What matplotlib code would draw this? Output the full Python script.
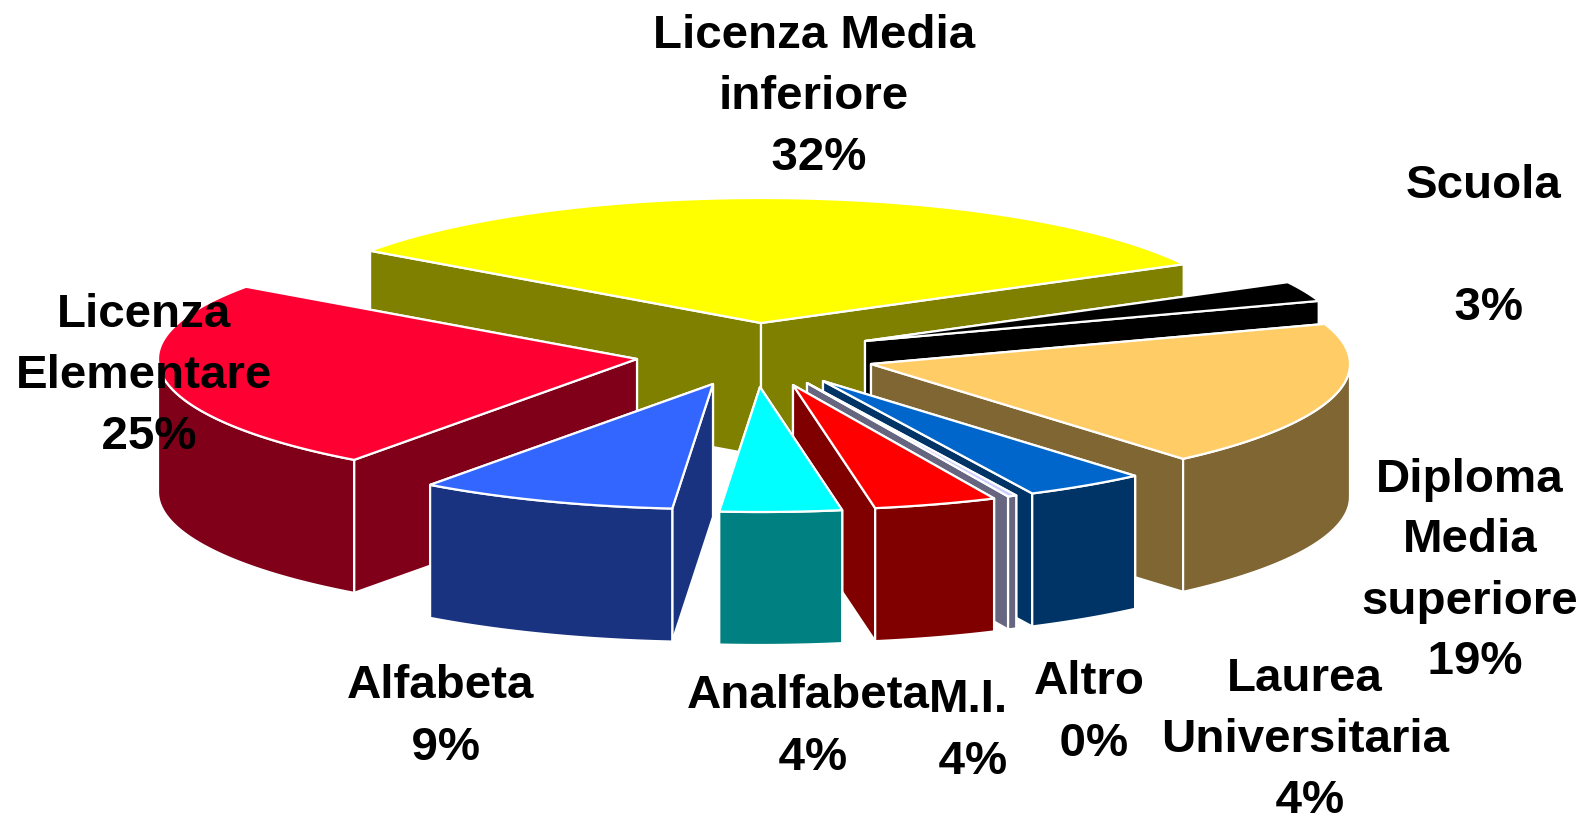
import numpy as np
import matplotlib
matplotlib.use("Agg")
import matplotlib.pyplot as plt
from matplotlib.patches import Polygon

# shares in percent, clockwise starting from Licenza Media
names = ["Licenza Media\ninferiore", "Scuola\n", "Diploma\nMedia\nsuperiore",
         "Laurea\nUniversitaria", "Altro", "M.I.", "Analfabeta", "Alfabeta",
         "Licenza\nElementare"]
values = [32.4, 2.6, 18.9, 4.1, 0.3, 4.15, 4.1, 8.7, 24.75]

top_colors = ["#FFFF00", "#000000", "#FFCC66", "#0066CC", "#CCCCFF",
              "#FF0000", "#00FFFF", "#3366FF", "#FF0033"]
wall_colors = ["#808000", "#000000", "#806633", "#003366", "#666680",
               "#800000", "#008080", "#1A3380", "#800019"]

# layout, in pixels of the final image
RX, RY, DEPTH = 479, 125, 133
START = 144.7
tips_x = [761, 865, 871, 823, 807, 793, 760, 713, 637]
tips_y = [323, 341, 364, 381, 383, 385, 387, 384, 359]
draw_order = [0, 1, 8, 2, 3, 4, 5, 6, 7]
label_x = [814, 1484, 1470, 1305, 1089, 968, 808, 441, 144]
label_y = [97, 247, 571, 740, 713, 731, 727, 717, 376]

FONT = "Liberation Sans"
EDGE = dict(edgecolor="white", linewidth=1.6, joinstyle="round")


def rim(cx, cy, angles):
    rad = np.radians(angles)
    return cx + RX * np.cos(rad), cy - RY * np.sin(rad)


def draw_wedge(ax, cx, cy, a_low, a_high, top, wall):
    # radial walls, the one further back first
    xl, yl = rim(cx, cy, a_low)
    xh, yh = rim(cx, cy, a_high)
    sides = sorted([(yl, xl), (yh, xh)])
    for y, x in sides:
        ax.add_patch(Polygon([(cx, cy), (x, y), (x, y + DEPTH), (cx, cy + DEPTH)],
                             facecolor=wall, **EDGE))

    # curved wall, only the part turned to the viewer
    for lo, hi in [(180, 360), (540, 720)]:
        f_lo, f_hi = max(a_low, lo), min(a_high, hi)
        if f_hi <= f_lo:
            continue
        xs, ys = rim(cx, cy, np.linspace(f_lo, f_hi, 60))
        pts = list(zip(xs, ys)) + list(zip(xs[::-1], ys[::-1] + DEPTH))
        ax.add_patch(Polygon(pts, facecolor=wall, **EDGE))

    xs, ys = rim(cx, cy, np.linspace(a_low, a_high, 80))
    ax.add_patch(Polygon([(cx, cy)] + list(zip(xs, ys)), facecolor=top, **EDGE))


fig = plt.figure(figsize=(15.95, 8.16), dpi=100)
ax = fig.add_axes([0, 0, 1, 1])
ax.set_xlim(0, 1595)
ax.set_ylim(816, 0)
ax.axis("off")

# walk clockwise: a wedge ends where the previous one stopped
sweeps = np.array(values) / sum(values) * 360
ends = START - np.concatenate([[0], np.cumsum(sweeps)[:-1]])
for i in draw_order:
    a_high = ends[i]
    a_low = a_high - sweeps[i]
    # keep the angles positive so the front arc tests stay simple
    a_low, a_high = a_low + 360, a_high + 360
    draw_wedge(ax, tips_x[i], tips_y[i], a_low, a_high, top_colors[i], wall_colors[i])

for i, name in enumerate(names):
    # the thin space nudges the percent line right of the name, as in the original
    ax.text(label_x[i], label_y[i], f"{name}\n\u2009{round(values[i])}%", ha="center", va="center",
            family=FONT, weight="bold", fontsize=34.2, color="black", linespacing=1.5)

fig.savefig("out.png", dpi=100)
